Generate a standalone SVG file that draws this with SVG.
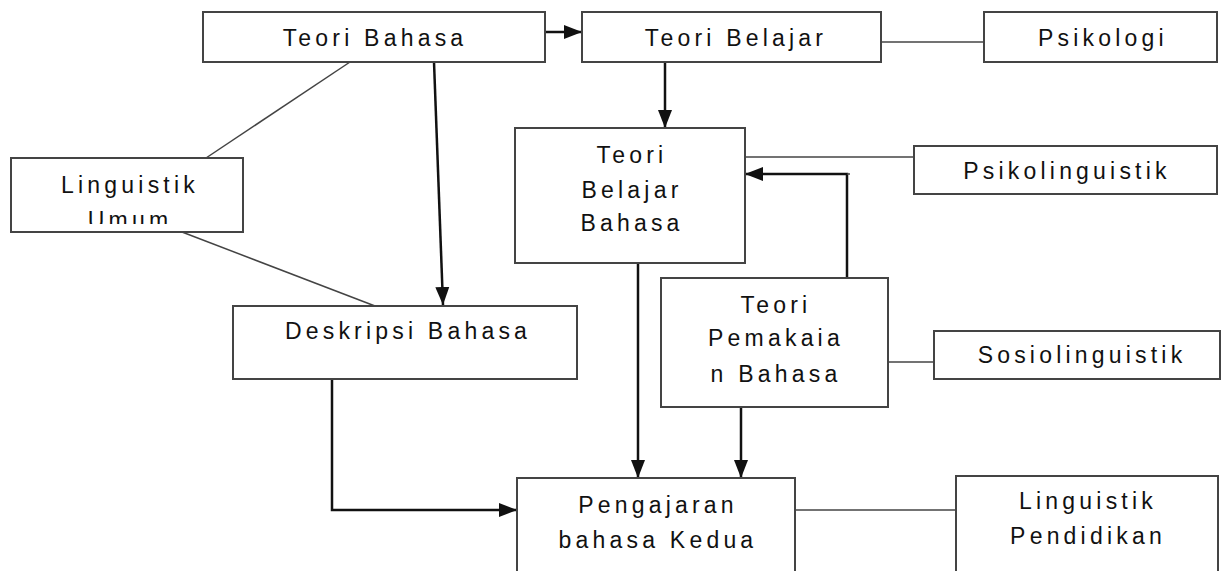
<svg xmlns="http://www.w3.org/2000/svg" width="1232" height="571" viewBox="0 0 1232 571">
<style>
.box{fill:#fff;stroke:#444;stroke-width:2}
.t{font-family:"Liberation Sans",Arial,sans-serif;font-size:23px;letter-spacing:4.2px;text-anchor:middle;fill:#111}
.ln{fill:none;stroke:#444;stroke-width:1.5}
.ar{fill:none;stroke:#111;stroke-width:2.5}
</style>
<defs>
<marker id="ah" markerUnits="userSpaceOnUse" markerWidth="18" markerHeight="18" viewBox="0 0 18 18" refX="18" refY="9" orient="auto">
<path d="M0,2 L18,9 L0,16 Z" fill="#111"/>
</marker>
<clipPath id="clipUmum"><rect x="12" y="159" width="230" height="65"/></clipPath>
</defs>
<rect width="1232" height="571" fill="#fff"/>
<g id="connectors">
<line class="ar" x1="545" y1="32" x2="582" y2="32" marker-end="url(#ah)"/>
<line class="ln" x1="881" y1="42" x2="984" y2="42"/>
<line class="ar" x1="665" y1="62" x2="665" y2="128" marker-end="url(#ah)"/>
<line class="ln" x1="350" y1="62" x2="206" y2="158"/>
<line class="ln" x1="182" y1="232" x2="375" y2="306"/>
<line class="ar" x1="434" y1="62" x2="443" y2="305" marker-end="url(#ah)"/>
<line class="ln" x1="741" y1="157" x2="914" y2="157"/>
<polyline class="ar" points="847,278 847,174 745,174" marker-end="url(#ah)"/>
<polyline class="ln" points="850,174 847,174"/>
<line class="ar" x1="638" y1="263" x2="638" y2="478" marker-end="url(#ah)"/>
<line class="ar" x1="741" y1="407" x2="741" y2="478" marker-end="url(#ah)"/>
<line class="ln" x1="888" y1="362" x2="934" y2="362"/>
<polyline class="ar" points="332,379 332,510 517,510" marker-end="url(#ah)"/>
<line class="ln" x1="795" y1="510" x2="956" y2="510"/>
</g>
<g id="teori-bahasa"><rect class="box" x="203" y="12" width="342" height="50"/><text class="t" x="375" y="46">Teori Bahasa</text></g>
<g id="teori-belajar"><rect class="box" x="582" y="12" width="299" height="50"/><text class="t" x="736" y="46">Teori Belajar</text></g>
<g id="psikologi"><rect class="box" x="984" y="12" width="233" height="50"/><text class="t" x="1103" y="46">Psikologi</text></g>
<g id="linguistik-umum"><rect class="box" x="11" y="158" width="232" height="74"/><text class="t" x="130" y="193">Linguistik</text><text class="t" x="130" y="228" clip-path="url(#clipUmum)">Umum</text></g>
<g id="teori-belajar-bahasa"><rect class="box" x="515" y="128" width="230" height="135"/><text class="t" x="632" y="163">Teori</text><text class="t" x="632" y="198">Belajar</text><text class="t" x="632" y="231">Bahasa</text></g>
<g id="psikolinguistik"><rect class="box" x="914" y="146" width="303" height="48"/><text class="t" x="1067" y="179">Psikolinguistik</text></g>
<g id="deskripsi-bahasa"><rect class="box" x="233" y="306" width="344" height="73"/><text class="t" x="408" y="339">Deskripsi Bahasa</text></g>
<g id="teori-pemakaian-bahasa"><rect class="box" x="661" y="278" width="227" height="129"/><text class="t" x="776" y="313">Teori</text><text class="t" x="776" y="346">Pemakaia</text><text class="t" x="776" y="382">n Bahasa</text></g>
<g id="sosiolinguistik"><rect class="box" x="934" y="331" width="286" height="48"/><text class="t" x="1082" y="363">Sosiolinguistik</text></g>
<g id="pengajaran-bahasa-kedua"><rect class="box" x="517" y="478" width="278" height="110"/><text class="t" x="658" y="513">Pengajaran</text><text class="t" x="658" y="548">bahasa Kedua</text></g>
<g id="linguistik-pendidikan"><rect class="box" x="956" y="476" width="262" height="110"/><text class="t" x="1088" y="509">Linguistik</text><text class="t" x="1088" y="544">Pendidikan</text></g>
</svg>
